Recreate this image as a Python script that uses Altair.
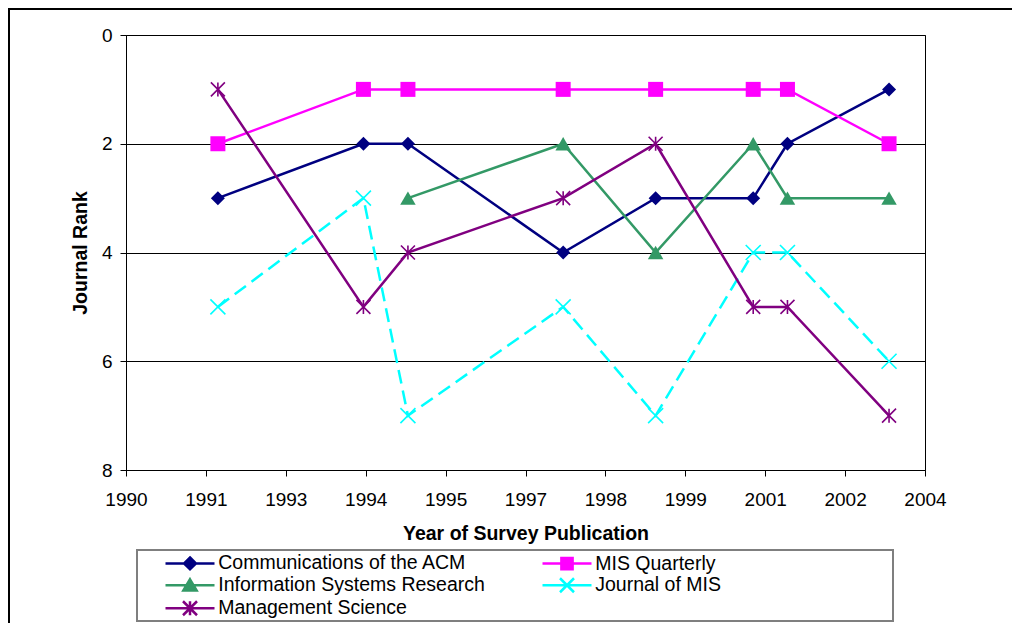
import altair as alt
import pandas as pd

# ---------------- data ----------------
series_names = [
    "Communications of the ACM",
    "MIS Quarterly",
    "Information Systems Research",
    "Journal of MIS",
    "Management Science",
]
years = [1991.61, 1994.16, 1994.94, 1997.66, 1999.28, 2000.99, 2001.59, 2003.37]
rank_cacm = [3, 2, 2, 4, 3, 3, 2, 1]
rank_misq = [2, 1, 1, 1, 1, 1, 1, 2]
rank_isr = [None, None, 3, 2, 4, 2, 3, 3]
rank_jmis = [5, 3, 7, 5, 7, 4, 4, 6]
rank_ms = [1, 5, 4, 3, 2, 5, 5, 7]
ranks = [rank_cacm, rank_misq, rank_isr, rank_jmis, rank_ms]

x_tick_labels = ["1990", "1991", "1993", "1994", "1995", "1997",
                 "1998", "1999", "2001", "2002", "2004"]
y_ticks = [0, 2, 4, 6, 8]

# ---------------- styles ----------------
FONT = "Liberation Sans"
colors = ["#000080", "#FF00FF", "#339966", "#00FFFF", "#800080"]
X_PATH = "M-1,-1L1,1M1,-1L-1,1"
AST_PATH = "M-1,-1L1,1M1,-1L-1,1M0,-1L0,1"
markers = [
    dict(shape="diamond", size=196, filled=True),
    dict(shape="square", size=225, filled=True),
    dict(shape="triangle-up", size=240, filled=True),
    dict(shape=X_PATH, size=225, filled=False),
    dict(shape=AST_PATH, size=196, filled=False),
]
dashes = [None, None, None, [14, 7], None]
legend_paths = [
    "M-3.5,0H3.5M0,-0.85L0.85,0L0,0.85L-0.85,0Z",
    "M-3.5,0H3.5M-0.8,-0.8H0.8V0.8H-0.8Z",
    "M-3.5,0H3.5M0,-0.85L0.95,0.75H-0.95Z",
    "M-3.5,0H3.5M-1,-1L1,1M1,-1L-1,1",
    "M-3.5,0H3.5M-1,-1L1,1M1,-1L-1,1M0,-1L0,1",
]

n_ticks = len(x_tick_labels)
x_min, x_max = 1990, 2004
step = (x_max - x_min) / (n_ticks - 1)
x_tick_values = [x_min + step * i for i in range(n_ticks)]
label_expr = "[" + ",".join("'%s'" % s for s in x_tick_labels) + "][round((datum.value - %d) / %s)]" % (x_min, step)

x_enc = alt.X(
    "year:Q",
    scale=alt.Scale(domain=[x_min, x_max], nice=False, zero=False),
    axis=alt.Axis(
        values=x_tick_values, labelExpr=label_expr, grid=False,
        title="Year of Survey Publication", titleFont=FONT, titleFontSize=19.5,
        titleFontWeight="bold", titleColor="black", titlePadding=15,
        labelFont=FONT, labelFontSize=19, labelColor="black", labelPadding=14,
        tickColor="black", tickSize=6, domainColor="black", labelFlush=False,
        labelOverlap=False,
    ),
)
y_enc = alt.Y(
    "rank:Q",
    scale=alt.Scale(domain=[0, 8], reverse=True, nice=False, zero=False),
    axis=alt.Axis(
        values=y_ticks, grid=True, gridColor="black", gridWidth=1, gridOpacity=1,
        title="Journal Rank", titleFont=FONT, titleFontSize=19.5,
        titleFontWeight="bold", titleColor="black", titlePadding=11,
        labelFont=FONT, labelFontSize=19, labelColor="black", labelPadding=8,
        tickColor="black", tickSize=6, domainColor="black", labelFlush=False,
    ),
)

# decorations: outer frame and legend box
deco_df = pd.DataFrame({"k": [0]})
frame = alt.Chart(deco_df).mark_rect(fill=None, stroke="black", strokeWidth=2).encode(
    x=alt.value(-117), x2=alt.value(900), y=alt.value(-26), y2=alt.value(620)
)
legend_box = alt.Chart(deco_df).mark_rect(fill="white", stroke="#7f7f7f", strokeWidth=2).encode(
    x=alt.value(11), x2=alt.value(767), y=alt.value(515), y2=alt.value(586)
)

layers = [frame, legend_box]
for name, r, col, mk, dash in zip(series_names, ranks, colors, markers, dashes):
    df = pd.DataFrame({"year": years, "rank": r, "series": name}).dropna()
    line_kw = dict(color=col, strokeWidth=2.5)
    if dash:
        line_kw["strokeDash"] = dash
    line = alt.Chart(df).mark_line(**line_kw).encode(x=x_enc, y=y_enc)
    if mk["filled"]:
        pts = alt.Chart(df).mark_point(
            shape=mk["shape"], size=mk["size"], filled=True, color=col, opacity=1
        ).encode(x=x_enc, y=y_enc)
    else:
        pts = alt.Chart(df).mark_point(
            shape=mk["shape"], size=mk["size"], filled=False, color=col,
            opacity=1, strokeWidth=1.6
        ).encode(x=x_enc, y=y_enc)
    layers += [line, pts]

leg = alt.Legend(
    title=None, orient="none", direction="horizontal", legendX=38, legendY=518.5,
    columns=2, columnPadding=52, rowPadding=-2, padding=0, symbolSize=196,
    symbolStrokeWidth=2.5, symbolOffset=16.25, labelOffset=18.5,
    labelFont=FONT, labelFontSize=19.5, labelColor="black", labelLimit=500,
)
legend_df = pd.DataFrame({"series": series_names})
legend_layer = alt.Chart(legend_df).mark_point(filled=True, opacity=1, strokeWidth=2.5).encode(
    x=alt.value(0), y=alt.value(0),
    fill=alt.Fill("series:N", scale=alt.Scale(domain=series_names, range=colors), legend=leg),
    stroke=alt.Stroke("series:N", scale=alt.Scale(domain=series_names, range=colors), legend=leg),
    shape=alt.Shape("series:N", scale=alt.Scale(domain=series_names, range=legend_paths), legend=leg),
).transform_filter("false")
layers.append(legend_layer)

chart = alt.layer(*layers).properties(
    width=799, height=435,
    autosize=alt.AutoSizeParams(type="none"),
    padding={"left": 118, "top": 27, "right": 87, "bottom": 153},
    background="white",
).configure_view(stroke="black", strokeWidth=1)

chart.save("out.html", embed_options={"renderer": "svg", "actions": False})
